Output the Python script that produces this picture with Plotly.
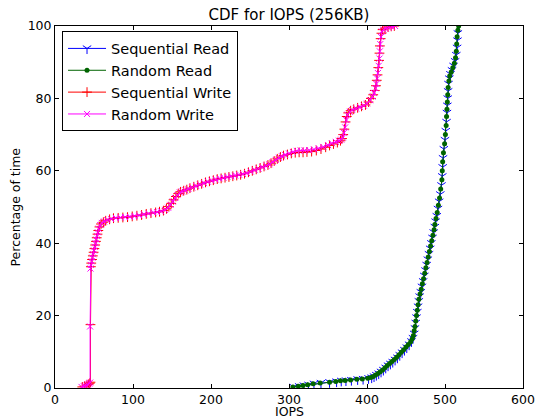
import plotly.graph_objects as go

# ---- data (IOPS, percentage of time) ----
seq_read = [
    (306, 0.3), (313, 0.5), (319, 0.7), (325, 0.9), (332, 1.2), (341, 1.4), (352, 1.6),
    (361, 1.8), (367, 2.0), (373, 2.1), (380, 2.2), (388, 2.4), (395, 2.5), (402, 2.7),
    (406, 2.9), (409, 3.2), (412, 3.6), (415, 4.0), (418, 4.5), (421, 5.0), (424, 5.6),
    (427, 6.2), (430, 6.7), (433, 7.2), (436, 7.8), (439, 8.4), (442, 9.1), (445, 9.8),
    (448, 10.5), (451, 11.2), (454, 12.0), (457, 12.9), (459, 13.8), (460.5, 15.0),
    (461.5, 16.5), (462.5, 18.0), (463.5, 19.5), (464.5, 21.0), (465.5, 22.5), (466.5, 24.0),
    (467.5, 25.3), (469, 26.5), (470.5, 28.0), (472, 29.5), (473.5, 31.0), (475, 32.5),
    (476.5, 34.0), (478, 35.5), (479.5, 37.0), (481, 38.5), (482.5, 40.0), (484, 41.5),
    (485.5, 43.0), (487, 44.5), (488, 46.0), (489.5, 47.5), (491, 49.5), (492.5, 51.5),
    (494, 53.5), (495.5, 56.0), (496.5, 58.5), (497, 61.0), (497.5, 63.5), (498.5, 66.0),
    (500, 68.5), (501, 71.0), (502, 73.5), (502.5, 76.0), (503, 78.0), (503.5, 80.0),
    (504, 82.0), (504.5, 84.0), (505.5, 85.5), (507, 86.7), (509, 87.8), (511, 89.0),
    (513, 90.3), (514.5, 92.0), (515.5, 94.0), (516, 96.0), (516.5, 98.0), (518, 99.7),
]
rand_read = [
    (305, 0.3), (312, 0.5), (318, 0.7), (324, 0.9), (331, 1.2), (340, 1.4), (352, 1.6),
    (360, 1.8), (366, 2.0), (372, 2.1), (379, 2.2), (387, 2.4), (394, 2.5), (401, 2.7),
    (405, 2.9), (408, 3.2), (411, 3.6), (414, 4.0), (417, 4.5), (420, 5.0), (423, 5.6),
    (426, 6.2), (429, 6.8), (432, 7.3), (435, 7.9), (438, 8.5), (441, 9.2), (444, 9.9),
    (447, 10.6), (450, 11.3), (453, 12.0), (456, 12.8), (458, 13.6), (459.5, 14.5),
    (460.5, 15.8), (461.5, 17.0), (462.5, 18.5), (463.5, 20.0), (464.5, 21.5), (465.5, 23.0),
    (466.5, 24.5), (468, 26.0), (469.5, 27.3), (471, 28.8), (472.5, 30.2), (474, 31.7),
    (475.5, 33.2), (477, 34.7), (478.5, 36.2), (480, 37.7), (481.5, 39.2), (483, 40.7),
    (484.5, 42.2), (486, 43.7), (487, 45.2), (488.5, 46.8), (490, 48.5), (491.5, 50.5),
    (493, 52.5), (494.5, 55.0), (496, 57.5), (496.5, 60.0), (497, 62.5), (498, 65.0),
    (499.5, 67.5), (500.5, 70.0), (501.5, 72.5), (502, 75.0), (502.5, 77.0), (503, 79.0),
    (503.5, 81.0), (504, 83.0), (505, 84.8), (506, 86.2), (508, 87.3), (510, 88.5),
    (512, 89.7), (513.5, 91.2), (514.5, 93.0), (515, 95.0), (515.5, 97.0), (516.5, 98.8),
    (517.5, 100.0),
]
seq_write = [
    (35, 0.3), (38, 0.5), (41, 0.8), (43, 1.0), (44.5, 1.3), (45.5, 1.6), (45.5, 17.5),
    (46, 33.5), (46.5, 34.5), (47.5, 35.5), (48.5, 36.5), (49.5, 37.5), (50.5, 38.5),
    (51.5, 39.5), (52.5, 40.5), (53.5, 41.5), (54.5, 42.5), (55.5, 43.5), (57, 44.5),
    (59, 45.3), (62, 45.8), (65, 46.2), (70, 46.6), (75, 46.9), (81, 47.0), (87, 47.1),
    (93, 47.2), (99, 47.4), (105, 47.6), (111, 47.8), (117, 48.1), (123, 48.3), (129, 48.5),
    (134, 48.7), (139, 49.0), (143, 49.5), (146, 50.1), (149, 51.0), (152, 52.0), (155, 52.9),
    (158, 53.7), (161, 54.2), (165, 54.5), (169, 54.8), (173, 55.2), (178, 55.6), (183, 56.0),
    (188, 56.4), (193, 56.8), (198, 57.1), (203, 57.4), (208, 57.7), (213, 57.9), (218, 58.1),
    (223, 58.3), (228, 58.5), (233, 58.7), (238, 58.9), (243, 59.2), (248, 59.6), (253, 60.0),
    (258, 60.4), (263, 60.8), (268, 61.2), (273, 61.6), (277, 62.1), (281, 62.7), (285, 63.3),
    (289, 63.8), (293, 64.2), (298, 64.5), (303, 64.8), (308, 65.0), (313, 65.1), (318, 65.1),
    (323, 65.2), (329, 65.3), (335, 65.6), (341, 66.0), (347, 66.5), (352, 67.0), (357, 67.4),
    (362, 67.8), (366, 68.3), (368, 68.9), (369.5, 70.0), (371, 71.5), (372.5, 73.5),
    (374, 75.0), (376, 76.0), (379, 76.6), (383, 77.0), (388, 77.4), (393, 77.8), (398, 78.2),
    (402, 79.0), (405, 80.0), (408, 81.0), (410, 82.2), (411.5, 83.5), (412.5, 85.0),
    (413.5, 86.5), (414.5, 88.5), (415.5, 90.5), (416, 92.5), (416.5, 94.5), (417.5, 96.5),
    (418.5, 98.0), (420, 99.0), (423, 99.4), (427, 99.7), (431, 99.9), (435, 100.0),
]
rand_write = [
    (34, 0.3), (37, 0.5), (40, 0.7), (42, 1.0), (44, 1.2), (45, 1.5), (45, 17.0),
    (45.5, 33.0), (46, 34.0), (47, 35.0), (48, 36.0), (49, 37.0), (50, 38.0), (51, 39.0),
    (52, 40.0), (53, 41.0), (54, 42.0), (55, 43.0), (56, 44.0), (58, 45.0), (60, 45.6),
    (63, 46.0), (67, 46.4), (72, 46.7), (78, 47.0), (84, 47.1), (90, 47.2), (96, 47.3),
    (102, 47.5), (108, 47.7), (114, 48.0), (120, 48.2), (126, 48.5), (131, 48.6), (136, 48.8),
    (141, 49.2), (145, 49.8), (148, 50.6), (151, 51.5), (154, 52.5), (157, 53.3), (160, 54.0),
    (163, 54.3), (167, 54.6), (171, 55.0), (176, 55.4), (181, 55.8), (186, 56.2), (191, 56.6),
    (196, 57.0), (201, 57.3), (206, 57.6), (211, 57.9), (216, 58.1), (221, 58.3), (226, 58.5),
    (231, 58.7), (236, 58.9), (241, 59.1), (246, 59.4), (251, 59.8), (256, 60.2), (261, 60.6),
    (266, 61.0), (271, 61.4), (275, 61.8), (279, 62.4), (283, 63.0), (287, 63.6), (291, 64.0),
    (295, 64.4), (300, 64.8), (305, 65.2), (310, 65.5), (315, 65.6), (320, 65.6), (326, 65.7),
    (332, 65.9), (338, 66.2), (344, 66.6), (350, 67.1), (355, 67.6), (360, 68.0), (364, 68.3),
    (367, 68.6), (369, 69.2), (370.5, 70.5), (372, 72.0), (373.5, 74.0), (375, 75.5),
    (378, 76.3), (381, 76.8), (386, 77.2), (391, 77.6), (396, 78.0), (400, 78.6), (404, 79.5),
    (407, 80.5), (409, 81.5), (411, 82.8), (412, 84.0), (413, 85.5), (414, 87.0), (415, 89.0),
    (416, 91.0), (416.5, 93.0), (417, 95.0), (418, 97.0), (419, 98.5), (421, 99.0),
    (424, 99.3), (428, 99.6), (432, 99.8), (436, 100.0),
]

series_names = ["Sequential Read", "Random Read", "Sequential Write", "Random Write"]
series_data = [seq_read, rand_read, seq_write, rand_write]
series_colors = ["#0000ff", "#006400", "#ff0000", "#ff00ff"]
series_symbols = ["y-down", "circle", "cross-thin", "x-thin"]
series_sizes = [7, 5, 7, 6]

x_ticks = [0, 100, 200, 300, 400, 500, 600]
y_ticks = [0, 20, 40, 60, 80, 100]

FONT = "DejaVu Sans"

fig = go.Figure()
for name, data, col, sym, sz in zip(series_names, series_data, series_colors,
                                    series_symbols, series_sizes):
    xs = [p[0] for p in data]
    ys = [p[1] for p in data]
    if sym == "circle":
        marker = dict(symbol=sym, size=sz, color=col, line=dict(width=0))
    else:
        marker = dict(symbol=sym, size=sz, color=col, line=dict(width=1, color=col))
    fig.add_trace(go.Scatter(
        x=xs, y=ys, mode="lines+markers", name=name,
        line=dict(color=col, width=1), marker=marker,
    ))

axis_common = dict(
    showgrid=False, zeroline=False, showline=True, linecolor="black", linewidth=1,
    mirror="allticks", ticks="inside", ticklen=4, tickwidth=1, tickcolor="black",
    tickfont=dict(family=FONT, size=12.5, color="black"), automargin=False,
)

fig.update_layout(
    width=535, height=418,
    margin=dict(l=55, r=12, t=26, b=30, autoexpand=False),
    paper_bgcolor="white", plot_bgcolor="white",
    font=dict(family=FONT, color="black"),
    title=dict(text="CDF for IOPS (256KB)", x=0.5, xref="paper",
               y=1 - 15 / 418, yref="container", yanchor="middle",
               font=dict(family=FONT, size=15, color="black")),
    xaxis=dict(range=[0, 600], tickvals=x_ticks, **axis_common),
    yaxis=dict(range=[0, 100], tickvals=y_ticks, **axis_common),
    showlegend=True,
    legend=dict(x=0.015, y=1 - 5.5 / 362.5, xanchor="left", yanchor="top",
                bgcolor="white", bordercolor="black", borderwidth=1,
                font=dict(family=FONT, size=14.5, color="black"),
                tracegroupgap=0, itemwidth=38),
    annotations=[
        dict(text="IOPS", xref="paper", yref="paper", x=0.5, y=-23.5 / 362.5,
             xanchor="center", yanchor="middle", showarrow=False,
             font=dict(family=FONT, size=12.5, color="black")),
        dict(text="Percentage of time", xref="paper", yref="paper",
             x=-31 / 468, y=0.5, xanchor="right", yanchor="middle", textangle=-90,
             showarrow=False, font=dict(family=FONT, size=12.5, color="black")),
    ],
)

fig.write_html("out.html")
